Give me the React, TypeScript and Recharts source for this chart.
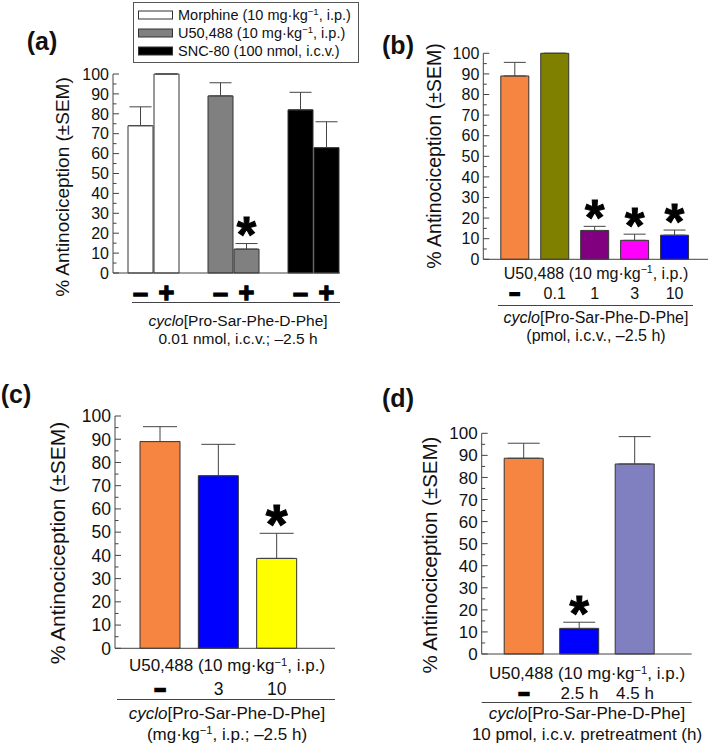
import React from 'react';
import { BarChart, Bar, XAxis, YAxis, ErrorBar, LabelList, Cell } from 'recharts';

const FONT = '"Liberation Sans", Arial, Helvetica, sans-serif';
const INK = '#111111';
const AXIS = '#444444';
const EDGE = '#333333';

const yTicks = [0, 5, 10, 15, 20, 25, 30, 35, 40, 45, 50, 55, 60, 65, 70, 75, 80, 85, 90, 95, 100];
const yAxisTitle = '% Antinociception (±SEM)';
const u50Line = 'U50,488 (10 mg·kg^−1^, i.p.)';
const cycloLine = '~cyclo~[Pro-Sar-Phe-D-Phe]';

// ---------- panel (a) ----------
const aGroups = ['Morphine', 'U50,488', 'SNC-80'];
const aFills = ['#FFFFFF', '#808080', '#000000'];
const aWithout = [74, 89, 82];
const aWithoutSem = [9.5, 6.6, 8.8];
const aWith = [100, 12, 63];
const aWithSem = [0, 2.8, 13];
const aWithStar = [false, true, false];
const aSigns = ['–', '+'];
const aLegend = ['Morphine (10 mg·kg^−1^, i.p.)', 'U50,488 (10 mg·kg^−1^, i.p.)', 'SNC-80 (100 nmol, i.c.v.)'];
const aFoot = ['0.01 nmol, i.c.v.; –2.5 h'];

// ---------- panel (b) ----------
const bCats = ['–', '0.1', '1', '3', '10'];
const bValues = [89, 100, 14, 9.2, 11.7];
const bSem = [6.6, 0, 2, 3, 2.5];
const bStar = [false, false, true, true, true];
const bFills = ['#F58540', '#808000', '#800080', '#FF00FF', '#0000FF'];
const bFoot = '(pmol, i.c.v., –2.5 h)';

// ---------- panel (c) ----------
const cCats = ['–', '3', '10'];
const cValues = [89, 74.3, 38.7];
const cSem = [6.4, 13.5, 10.8];
const cStar = [false, false, true];
const cFills = ['#F58540', '#0000FF', '#FFFF00'];
const cFoot = '(mg·kg^−1^, i.p.; –2.5 h)';

// ---------- panel (d) ----------
const dCats = ['–', '2.5 h', '4.5 h'];
const dValues = [88.7, 11.6, 86.1];
const dSem = [6.8, 2.8, 12.4];
const dStar = [false, true, false];
const dFills = ['#F58540', '#0000FF', '#8080C0'];
const dFoot = '10 pmol, i.c.v. pretreatment (h)';

// rich text: ^sup^ and ~italic~
const RichText = ({ x, y, text, fs, anchor = 'middle', weight = 'normal', rotate = false }: any) => {
  const parts = String(text).split(/(\^[^^]*\^|~[^~]*~)/).filter((p: string) => p.length > 0);
  const kids: any[] = [];
  let shifted = false;
  const up = fs * 0.33;
  parts.forEach((p: string, k: number) => {
    if (p.startsWith('^')) {
      kids.push(<tspan key={k} dy={-up} fontSize={fs * 0.66}>{p.slice(1, -1)}</tspan>);
      shifted = true;
    } else if (p.startsWith('~')) {
      kids.push(<tspan key={k} fontStyle="italic" dy={shifted ? up : undefined}>{p.slice(1, -1)}</tspan>);
      shifted = false;
    } else {
      kids.push(<tspan key={k} dy={shifted ? up : undefined}>{p}</tspan>);
      shifted = false;
    }
  });
  const by = y + fs * 0.36;
  return (
    <text x={x} y={by} fontSize={fs} fontFamily={FONT} fontWeight={weight} textAnchor={anchor} fill={INK}
      transform={rotate ? `rotate(-90 ${x} ${y})` : undefined}>
      {kids}
    </text>
  );
};

const makeYTick = (fs: number) => (props: any) => {
  const { x, y, payload } = props;
  const v = payload.value;
  const major = v % 10 === 0;
  return (
    <g>
      <line x1={x} x2={x + (major ? 6 : 3.5)} y1={y} y2={y} stroke={AXIS} strokeWidth={1} />
      {major && (
        <text x={x - 4} y={y + fs * 0.36} textAnchor="end" fontSize={fs} fontFamily={FONT} fill={INK}>{v}</text>
      )}
    </g>
  );
};

const makeXTick = (fs: number, dy: number) => (props: any) => {
  const { x, y, payload } = props;
  const v = payload.value;
  if (v === '–') {
    return (
      <text x={x} y={y + dy + fs * 0.36} textAnchor="middle" fontSize={fs * 1.05} fontWeight={900}
        fontFamily={FONT} fill="#000" stroke="#000" strokeWidth={2.6}>–</text>
    );
  }
  return (
    <text x={x} y={y + dy + fs * 0.36} textAnchor="middle" fontSize={fs} fontFamily={FONT} fill={INK}>{v}</text>
  );
};

const makeStar = (values: number[], sems: number[], stars: boolean[], fs: number, gap: number) => (props: any) => {
  let i = props.index;
  if (i == null) i = values.indexOf(props.value);
  if (i == null || i < 0 || !stars[i]) return null;
  const vb = props.viewBox ?? props;
  const { x, y, width, height } = vb;
  const ppu = height / values[i];
  const errTop = y - sems[i] * ppu;
  const cy = errTop - gap;
  return (
    <text x={x + width / 2} y={cy + fs * 0.47} textAnchor="middle" fontSize={fs} fontWeight="bold"
      fontFamily={FONT} fill="#000" stroke="#000" strokeWidth={1}>*</text>
  );
};

const makeSign = (sign: string, fs: number, dy: number) => (props: any) => {
  const vb = props.viewBox ?? props;
  const { x, y, width, height } = vb;
  return (
    <text x={x + width / 2} y={y + height + dy + fs * 0.36} textAnchor="middle" fontSize={fs} fontWeight={900}
      fontFamily={FONT} fill="#000" stroke="#000" strokeWidth={1.3}>{sign}</text>
  );
};

const Overlay = ({ w, h, children }: any) => (
  <svg width={w} height={h} style={{ position: 'absolute', left: 0, top: 0, overflow: 'visible', pointerEvents: 'none' }}>
    {children}
  </svg>
);

const PanelA = () => {
  const data = aGroups.map((g, i) => ({
    name: g,
    without: aWithout[i],
    withoutErr: [0, aWithoutSem[i]],
    with: aWith[i],
    withErr: [0, aWithSem[i]],
  }));
  const W = 360, H = 380;
  return (
    <div style={{ position: 'absolute', left: 0, top: 0, width: W, height: H }}>
      <BarChart width={W} height={H} data={data} margin={{ top: 74, right: 20, bottom: 87, left: 0 }} barGap={1} barSize={25}>
        <XAxis dataKey="name" height={20} tick={false} tickLine={false} axisLine={{ stroke: AXIS }} padding={{ left: 0, right: -13 }} />
        <YAxis width={113} domain={[0, 100]} ticks={yTicks} interval={0} tickSize={0} tickMargin={0} tickLine={false}
          axisLine={{ stroke: AXIS }} tick={makeYTick(16)} />
        <Bar dataKey="without" isAnimationActive={false} stroke={EDGE} strokeWidth={1}>
          {data.map((d, i) => <Cell key={i} fill={aFills[i]} />)}
          <ErrorBar dataKey="withoutErr" width={11} stroke={AXIS} strokeWidth={1} direction="y" />
          <LabelList content={makeSign(aSigns[0], 27, 19)} />
        </Bar>
        <Bar dataKey="with" isAnimationActive={false} stroke={EDGE} strokeWidth={1}>
          {data.map((d, i) => <Cell key={i} fill={aFills[i]} />)}
          <ErrorBar dataKey="withErr" width={11} stroke={AXIS} strokeWidth={1} direction="y" />
          <LabelList content={makeSign(aSigns[1], 27, 19)} />
          <LabelList content={makeStar(aWith, aWithSem, aWithStar, 50, 15)} />
        </Bar>
      </BarChart>
      <Overlay w={W} h={H}>
        <RichText x={42} y={41} text="(a)" fs={25} weight="bold" />
        <RichText x={62} y={187} text={yAxisTitle} fs={19} rotate />
        <rect x={133.5} y={2.5} width={225} height={60} fill="#fff" stroke="#555" strokeWidth={1} />
        {aLegend.map((t, i) => (
          <g key={i}>
            <rect x={138.5} y={11 + i * 18} width={34} height={8} fill={aFills[i]} stroke={EDGE} strokeWidth={1} />
            <RichText x={178} y={15 + i * 18} text={t} fs={14.5} anchor="start" />
          </g>
        ))}
        <line x1={132} x2={340} y1={302.5} y2={302.5} stroke={AXIS} strokeWidth={1} />
        <RichText x={238} y={320} text={cycloLine} fs={15.5} />
        <RichText x={238} y={338} text={aFoot[0]} fs={15.5} />
      </Overlay>
    </div>
  );
};

const SimplePanel = ({ left, top, W, H, cats, values, sems, stars, fills, axisX, yTop, yBottom, plotRight, pad,
  barSize, capW, tickFs, textFs, starFs, starGap, tickDy, label, labelPos, yLabelPos, yLabelFs, line1Y, textX,
  underline, line3Y, line4Y, foot }: any) => {
  const data = cats.map((c: string, i: number) => ({ name: c, value: values[i], err: [0, sems[i]] }));
  const xHeight = 20;
  return (
    <div style={{ position: 'absolute', left, top, width: W, height: H }}>
      <BarChart width={W} height={H} data={data}
        margin={{ top: yTop, right: W - plotRight, bottom: H - yBottom - xHeight, left: 0 }} barSize={barSize}>
        <XAxis dataKey="name" height={xHeight} tickLine={false} tickSize={0} tickMargin={0} interval={0}
          axisLine={{ stroke: AXIS }} padding={pad} tick={makeXTick(tickFs, tickDy)} />
        <YAxis width={axisX} domain={[0, 100]} ticks={yTicks} interval={0} tickSize={0} tickMargin={0} tickLine={false}
          axisLine={{ stroke: AXIS }} tick={makeYTick(tickFs)} />
        <Bar dataKey="value" isAnimationActive={false} stroke={EDGE} strokeWidth={1}>
          {data.map((d: any, i: number) => <Cell key={i} fill={fills[i]} />)}
          <ErrorBar dataKey="err" width={capW} stroke={AXIS} strokeWidth={1} direction="y" />
          <LabelList content={makeStar(values, sems, stars, starFs, starGap)} />
        </Bar>
      </BarChart>
      <Overlay w={W} h={H}>
        <RichText x={labelPos[0]} y={labelPos[1]} text={label} fs={25} weight="bold" />
        <RichText x={yLabelPos[0]} y={yLabelPos[1]} text={yAxisTitle} fs={yLabelFs} rotate />
        <RichText x={textX} y={line1Y} text={u50Line} fs={textFs} />
        <line x1={underline[0]} x2={underline[1]} y1={underline[2]} y2={underline[2]} stroke={AXIS} strokeWidth={1} />
        <RichText x={textX} y={line3Y} text={cycloLine} fs={textFs} />
        <RichText x={textX} y={line4Y} text={foot} fs={textFs} />
      </Overlay>
    </div>
  );
};

export default function App() {
  return (
    <div style={{ position: 'absolute', left: 0, top: 0, width: 709, height: 746, background: '#fff', overflow: 'hidden' }}>
      <PanelA />
      <SimplePanel left={350} top={0} W={359} H={380} cats={bCats} values={bValues} sems={bSem} stars={bStar} fills={bFills}
        axisX={133.3} yTop={53.3} yBottom={259.3} plotRight={358} pad={{ left: 11.5, right: 13.5 }} barSize={28} capW={11}
        tickFs={16} textFs={16} starFs={50} starGap={15} tickDy={34} label="(b)" labelPos={[48, 45]} yLabelPos={[84, 156]}
        yLabelFs={19.5} line1Y={273} textX={246} underline={[148, 343, 305.5]} line3Y={317} line4Y={335} foot={bFoot} />
      <SimplePanel left={0} top={380} W={360} H={366} cats={cCats} values={cValues} sems={cSem} stars={cStar} fills={cFills}
        axisX={115} yTop={36} yBottom={268.3} plotRight={335} pad={{ left: 16, right: 29 }} barSize={40} capW={17}
        tickFs={17.5} textFs={17} starFs={56} starGap={17} tickDy={40} label="(c)" labelPos={[16, 14]} yLabelPos={[57, 163]}
        yLabelFs={21} line1Y={285} textX={227} underline={[117, 335, 319.5]} line3Y={332.5} line4Y={353.5} foot={cFoot} />
      <SimplePanel left={350} top={380} W={359} H={366} cats={dCats} values={dValues} sems={dSem} stars={dStar} fills={dFills}
        axisX={131.7} yTop={53.3} yBottom={274} plotRight={341.7} pad={{ left: 14.5, right: 29 }} barSize={39} capW={16}
        tickFs={17} textFs={17} starFs={50} starGap={15} tickDy={39.3} label="(d)" labelPos={[48, 18]} yLabelPos={[80, 175]}
        yLabelFs={20.5} line1Y={293.3} textX={237} underline={[131.7, 341.7, 322.5]} line3Y={333} line4Y={353.5} foot={dFoot} />
    </div>
  );
}
